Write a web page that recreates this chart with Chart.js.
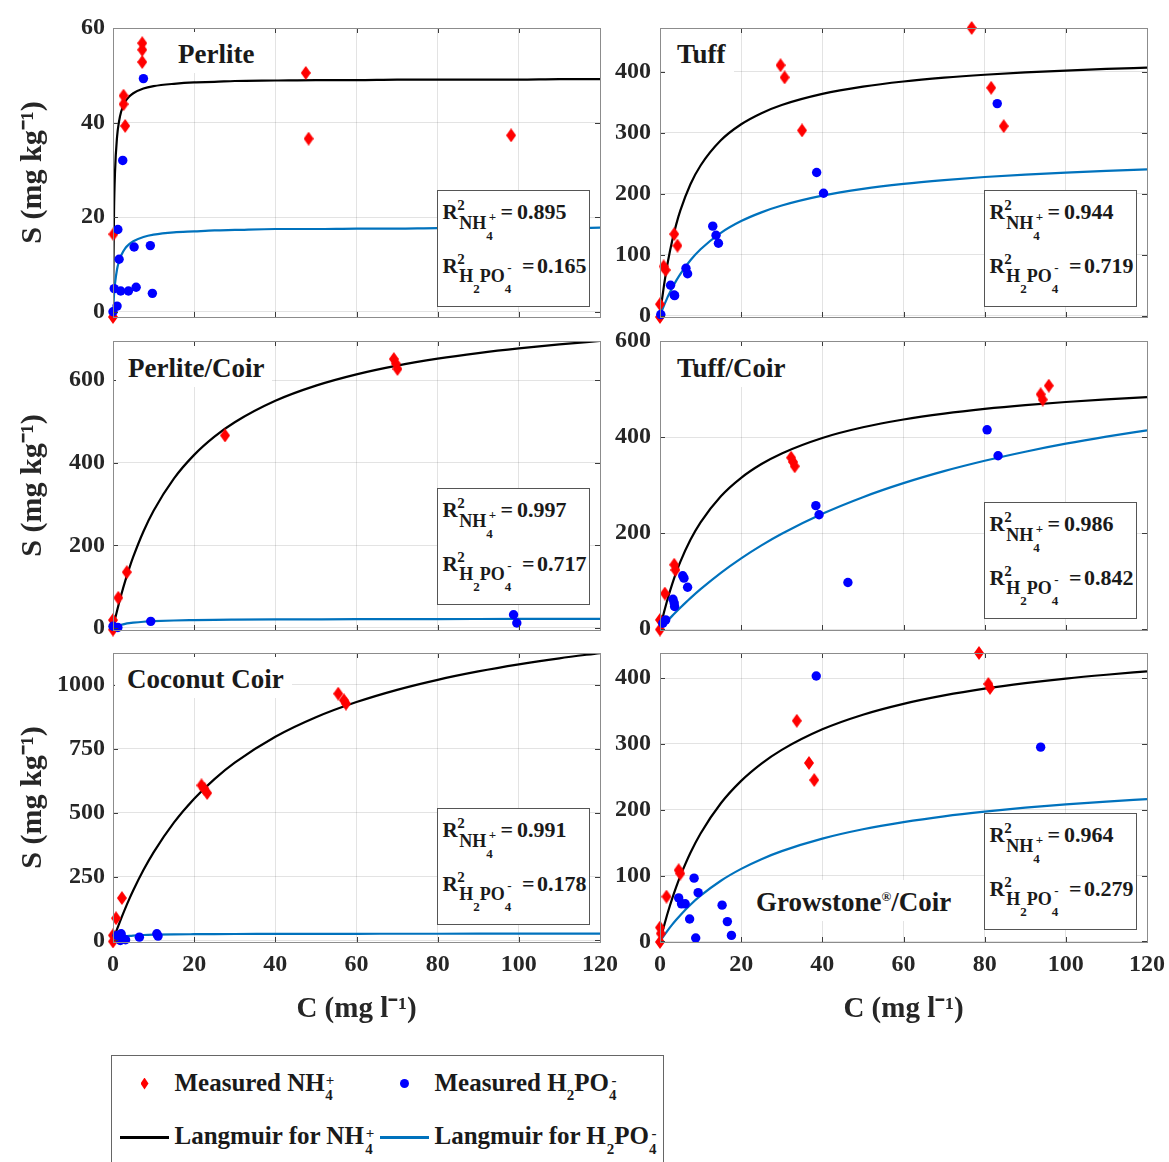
<!DOCTYPE html>
<html><head><meta charset="utf-8">
<script src="https://cdn.jsdelivr.net/npm/chart.js@4.4.1/dist/chart.umd.min.js"></script>
<style>
html,body{margin:0;padding:0;background:#fff;}
body{width:1169px;height:1162px;overflow:hidden;position:relative;}
canvas{position:absolute;}
.t{position:absolute;white-space:nowrap;line-height:1;font-family:'Liberation Serif',serif;font-weight:bold;color:#1a1a1a;}
.box{position:absolute;background:#fff;border:1px solid #555;box-sizing:border-box;}
.bg{position:absolute;background:#fff;}
</style></head><body>
<script>
// ---------------- DATA ----------------
const xTicks = [0, 20, 40, 60, 80, 100, 120];
const xTickLabels = ['0', '20', '40', '60', '80', '100', '120'];
const panelNames = ['Perlite', 'Tuff', 'Perlite/Coir', 'Tuff/Coir', 'Coconut Coir', 'Growstone®/Coir'];
const r2NH4 = ['0.895', '0.944', '0.997', '0.986', '0.991', '0.964'];
const r2H2PO4 = ['0.165', '0.719', '0.717', '0.842', '0.178', '0.279'];

// C values at which the Langmuir curves were read
const C_fit = [0, 0.25, 0.5, 1, 1.5, 2, 3, 4, 5, 7.5, 10, 15, 20, 25, 30, 40, 50, 60, 70, 80, 90, 100, 110, 120];

// Perlite
const perliteYRange = [-1.1, 60];
const perliteYTicks = [0, 20, 40, 60];
const perliteNH4 = [[7.2,56.8],[7.2,55.4],[7.2,52.8],[2.6,45.7],[2.6,43.9],[3.0,39.3],[0.1,16.4],[0,-1.1],[47.5,50.5],[48.2,36.6],[98.1,37.3]];
const perliteH2PO4 = [[7.5,49.3],[2.4,32.0],[1.2,17.4],[1.5,11.1],[0.3,4.9],[1.9,4.4],[3.8,4.4],[5.7,5.2],[5.2,13.7],[9.2,14.0],[9.7,3.9],[1.0,1.2],[0,0]];
const perliteNH4Fit = [0,21.1,29.6,37.0,40.3,42.3,44.4,45.5,46.2,47.2,47.7,48.2,48.5,48.6,48.8,48.9,49.0,49.0,49.1,49.1,49.1,49.1,49.2,49.2];
const perliteH2PO4Fit = [0,3.6,6.0,9.0,10.7,11.9,13.4,14.3,14.9,15.8,16.3,16.8,17.0,17.2,17.3,17.5,17.5,17.6,17.6,17.7,17.7,17.7,17.7,17.8];

// Tuff
const tuffYRange = [-2, 472];
const tuffYTicks = [0, 100, 200, 300, 400];
const tuffNH4 = [[76.8,472],[29.7,411],[30.7,391],[35.0,304],[81.6,374],[84.7,311],[3.5,134],[4.3,115],[0.9,81],[1.4,75],[0,19],[0,-2]];
const tuffH2PO4 = [[83.1,348],[38.6,235],[40.3,201],[13.0,147],[13.8,132],[14.4,119],[6.4,78],[6.8,69],[2.6,50],[3.5,34],[3.6,33],[0.2,2]];
const tuffNH4Fit = [0,13.9,26.9,50.6,71.8,90.6,123.1,149.9,172.4,215.7,246.5,287.8,314.1,332.3,345.7,363.9,375.9,384.3,390.5,395.3,399.1,402.2,404.8,407.0];
const tuffH2PO4Fit = [0,4.5,8.9,17.2,24.9,32.3,45.6,57.6,68.4,91.0,109.0,136.0,155.3,169.6,180.8,197.0,208.2,216.4,222.6,227.6,231.6,234.9,237.6,240.0];

// Perlite/Coir
const perliteCoirYRange = [-5, 694.7];
const perliteCoirYTicks = [0, 200, 400, 600];
const perliteCoirNH4 = [[69.2,651],[69.7,640],[70.1,627],[27.6,466],[3.4,135],[1.3,73],[0,19],[0,-4]];
const perliteCoirH2PO4 = [[98.7,32],[99.5,12],[9.3,16],[1.2,1],[0,4]];
const perliteCoirNH4Fit = [0,10.8,21.4,41.7,61.0,79.3,113.3,144.3,172.5,233.6,283.9,361.6,419.0,463.2,498.1,550.0,586.7,614.0,635.1,651.9,665.5,676.9,686.5,694.7];
const perliteCoirH2PO4Fit = [0,1.4,2.6,4.7,6.4,7.8,10.0,11.6,12.8,15.0,16.3,18.0,18.9,19.6,20.0,20.6,20.9,21.2,21.3,21.5,21.6,21.7,21.8,21.8];

// Tuff/Coir
const tuffCoirYRange = [-2, 600];
const tuffCoirYTicks = [0, 200, 400, 600];
const tuffCoirNH4 = [[95.8,507],[93.8,489],[94.3,478],[32.3,357],[32.8,348],[33.2,339],[3.5,134],[3.8,123],[1.2,74],[0,19],[0,-1]];
const tuffCoirH2PO4 = [[80.6,415],[83.3,361],[38.4,257],[39.2,238],[46.3,97],[5.6,111],[5.9,106],[6.8,87],[3.2,62],[3.5,54],[3.6,47],[1.4,19],[0.7,12]];
const tuffCoirNH4Fit = [0,9.3,18.2,35.3,51.2,66.2,93.6,118.0,139.9,185.8,222.3,276.6,315.0,343.7,365.9,398.1,420.3,436.5,448.8,458.6,466.5,472.9,478.4,483.0];
const tuffCoirH2PO4Fit = [0,2.4,4.7,9.4,14.0,18.5,27.4,36.0,44.3,64.3,83.0,117.1,147.2,174.2,198.4,240.0,274.7,303.9,328.9,350.5,369.4,386.1,400.8,414.0];

// Coconut Coir
const coirYRange = [-6, 1125];
const coirYTicks = [0, 250, 500, 750, 1000];
const coirNH4 = [[55.5,966],[56.9,940],[57.4,927],[21.8,607],[22.5,594],[23.2,577],[2.2,166],[0.75,87],[0,20],[0,-4]];
const coirH2PO4 = [[10.8,26],[11.1,17],[6.5,13],[2.0,26],[2.4,9],[3.1,3],[1.8,0],[1.0,20]];
const coirNH4Fit = [0,11.3,22.4,44.2,65.2,85.7,124.7,161.6,196.4,275.5,344.9,461.2,554.7,631.5,695.8,797.1,873.5,933.0,980.9,1020.1,1052.8,1080.4,1104.2,1124.9];
const coirH2PO4Fit = [0,3.0,5.4,9.0,11.6,13.5,16.2,18.0,19.3,21.3,22.5,23.8,24.5,25.0,25.3,25.7,26.0,26.1,26.3,26.3,26.4,26.5,26.5,26.6];

// Growstone/Coir
const growYRange = [-1, 438];
const growYTicks = [0, 100, 200, 300, 400];
const growNH4 = [[78.6,438],[80.9,391],[81.3,385],[33.7,335],[36.7,271],[38.0,245],[4.6,108],[5.0,103],[1.6,68],[0,21],[0.2,12],[0,-1]];
const growH2PO4 = [[38.5,403],[93.8,295],[8.4,96],[9.4,74],[4.6,66],[5.3,57],[6.2,57],[7.3,34],[15.3,55],[16.6,30],[17.6,9],[8.8,5]];
const growNH4Fit = [0,6.2,12.2,23.8,34.8,45.3,64.8,82.7,99.0,134.5,163.9,209.7,243.7,270.0,290.9,322.1,344.3,360.8,373.6,383.9,392.2,399.2,405.0,410.1];
const growH2PO4Fit = [0,2.3,4.6,9.0,13.3,17.5,25.4,32.8,39.8,55.6,69.3,92.1,110.1,124.8,137.0,156.0,170.2,181.1,189.9,197.0,203.0,208.0,212.3,216.0];

// ---------------- LAYOUT ----------------
const FONT = "'Liberation Serif', 'Times New Roman', serif";
const colL = [113, 660], colR = [600, 1147];
const rowT = [28, 341, 653], rowB = [317, 630, 942];
const PT = 24, PR = 28;

const panels = [
  {nh4: perliteNH4, p: perliteH2PO4, nh4Fit: perliteNH4Fit, pFit: perliteH2PO4Fit, yR: perliteYRange, yT: perliteYTicks, col: 0, row: 0, title: [178, 64], box: [437, 190]},
  {nh4: tuffNH4, p: tuffH2PO4, nh4Fit: tuffNH4Fit, pFit: tuffH2PO4Fit, yR: tuffYRange, yT: tuffYTicks, col: 1, row: 0, title: [677, 64], box: [984, 190]},
  {nh4: perliteCoirNH4, p: perliteCoirH2PO4, nh4Fit: perliteCoirNH4Fit, pFit: perliteCoirH2PO4Fit, yR: perliteCoirYRange, yT: perliteCoirYTicks, col: 0, row: 1, title: [128, 378], box: [437, 488]},
  {nh4: tuffCoirNH4, p: tuffCoirH2PO4, nh4Fit: tuffCoirNH4Fit, pFit: tuffCoirH2PO4Fit, yR: tuffCoirYRange, yT: tuffCoirYTicks, col: 1, row: 1, title: [677, 378], box: [984, 502]},
  {nh4: coirNH4, p: coirH2PO4, nh4Fit: coirNH4Fit, pFit: coirH2PO4Fit, yR: coirYRange, yT: coirYTicks, col: 0, row: 2, title: [127, 689], box: [437, 808]},
  {nh4: growNH4, p: growH2PO4, nh4Fit: growNH4Fit, pFit: growH2PO4Fit, yR: growYRange, yT: growYTicks, col: 1, row: 2, title: [756, 912], box: [984, 813]}
];

// diamond marker (MATLAB-like 'd')
const dia = document.createElement('canvas');
dia.width = 10; dia.height = 14;
(function(){ const g = dia.getContext('2d'); g.fillStyle = '#ff0000'; g.beginPath(); g.moveTo(5,0); g.lineTo(10,7); g.lineTo(5,14); g.lineTo(0,7); g.closePath(); g.fill(); })();

const boxPlugin = {
  id: 'matlabBox',
  afterDraw(chart) {
    const {ctx, chartArea: a, scales: {x, y}} = chart;
    ctx.save();
    ctx.strokeStyle = '#3c3c3c';
    ctx.lineWidth = 1;
    ctx.beginPath();
    const TL = 5;
    x.ticks.forEach(t => {
      const px = Math.round(x.getPixelForValue(t.value)) + 0.5;
      ctx.moveTo(px, a.bottom); ctx.lineTo(px, a.bottom - TL);
      ctx.moveTo(px, a.top); ctx.lineTo(px, a.top + TL);
    });
    y.ticks.forEach(t => {
      const py = Math.round(y.getPixelForValue(t.value)) + 0.5;
      ctx.moveTo(a.left, py); ctx.lineTo(a.left + TL, py);
      ctx.moveTo(a.right, py); ctx.lineTo(a.right - TL, py);
    });
    ctx.stroke();
    ctx.strokeStyle = '#8c8c8c';
    ctx.strokeRect(Math.round(a.left) + 0.5, Math.round(a.top) + 0.5, Math.round(a.right - a.left), Math.round(a.bottom - a.top));
    ctx.restore();
  }
};

const tickFont = {family: FONT, size: 24, weight: 'bold'};
const gridCol = 'rgba(0,0,0,0.11)';

panels.forEach((p) => {
  const c = p.col, r = p.row;
  const cLeft = c === 0 ? 0 : 600;
  const YW = colL[c] - cLeft;
  const XH = r === 2 ? 88 : 24;
  const W = colR[c] - cLeft + PR;
  const H = rowB[r] - rowT[r] + PT + XH;
  const cv = document.createElement('canvas');
  cv.width = W; cv.height = H;
  Object.assign(cv.style, {left: cLeft + 'px', top: (rowT[r] - PT) + 'px', width: W + 'px', height: H + 'px'});
  document.body.appendChild(cv);
  new Chart(cv, {
    type: 'scatter',
    data: {datasets: [
      {type: 'line', showLine: true, data: C_fit.map((x, k) => ({x, y: p.nh4Fit[k]})), borderColor: '#000000', borderWidth: 2.2, pointRadius: 0, cubicInterpolationMode: 'monotone', fill: false, order: 3},
      {type: 'line', showLine: true, data: C_fit.map((x, k) => ({x, y: p.pFit[k]})), borderColor: '#0072bd', borderWidth: 2.2, pointRadius: 0, cubicInterpolationMode: 'monotone', fill: false, order: 2},
      {data: p.nh4.map(([x, y]) => ({x, y})), pointStyle: dia, pointRadius: 6, order: 1, clip: false},
      {data: p.p.map(([x, y]) => ({x, y})), pointStyle: 'circle', pointRadius: 4.7, backgroundColor: '#0000ff', borderWidth: 0, order: 0, clip: false}
    ]},
    options: {
      responsive: false, animation: false, devicePixelRatio: 1, events: [],
      layout: {padding: {left: 0, top: PT, right: PR, bottom: 0}},
      plugins: {legend: {display: false}, tooltip: {enabled: false}},
      scales: {
        x: {
          type: 'linear', min: 0, max: 120,
          afterBuildTicks: s => { s.ticks = xTicks.map(v => ({value: v})); },
          afterFit: s => { s.height = XH; },
          ticks: {display: r === 2, padding: 8, font: tickFont, color: '#262626', autoSkip: false, maxRotation: 0, callback: (v, k) => xTickLabels[k]},
          grid: {color: gridCol, drawTicks: false, lineWidth: 1},
          border: {display: false},
          title: {display: r === 2, text: 'C (mg l⁻¹)', color: '#262626', font: {family: FONT, size: 29, weight: 'bold'}, padding: {top: 0, bottom: 3}}
        },
        y: {
          type: 'linear', min: p.yR[0], max: p.yR[1],
          afterBuildTicks: s => { s.ticks = p.yT.map(v => ({value: v})); },
          afterFit: s => { s.width = YW; },
          ticks: {padding: c === 0 ? 8 : 9, font: tickFont, color: '#262626', autoSkip: false, callback: (v, k) => String(p.yT[k])},
          grid: {color: gridCol, drawTicks: false, lineWidth: 1},
          border: {display: false},
          title: {display: c === 0, text: 'S (mg kg⁻¹)', color: '#262626', font: {family: FONT, size: 30, weight: 'bold'}, padding: {top: 15, bottom: 0}}
        }
      }
    },
    plugins: [boxPlugin]
  });
});

// ---------------- TEXT ANNOTATIONS ----------------
const mctx = document.createElement('canvas').getContext('2d');
function tw(s, size) { mctx.font = `bold ${size}px ${FONT}`; return mctx.measureText(s).width; }
function put(s, x, base, size) {
  const e = document.createElement('span');
  e.className = 't'; e.textContent = s;
  e.style.fontSize = size + 'px';
  e.style.left = x + 'px';
  e.style.top = (base - 0.8375 * size) + 'px';
  document.body.appendChild(e);
  return x + tw(s, size);
}
function panelTitle(name, x, base, a) {
  const sp = name.split('®');
  const parts = sp.length === 2 ? [[sp[0], 27, 0], ['®', 13, -11], [sp[1], 27, 0]] : [[name, 27, 0]];
  let w = 0; parts.forEach(([s, sz]) => w += tw(s, sz));
  const L = Math.max(x - 12, a.l + 1), T = Math.max(base - 32, a.t + 1), R = Math.min(x + w + 8, a.r - 1), B = Math.min(base + 9, a.b - 1);
  const bg = document.createElement('div'); bg.className = 'bg';
  Object.assign(bg.style, {left: L + 'px', top: T + 'px', width: (R - L) + 'px', height: (B - T) + 'px'});
  document.body.appendChild(bg);
  let X = x; parts.forEach(([s, sz, dy]) => { X = put(s, X, base + dy, sz); });
}
function r2Box(bx, by, v1, v2) {
  const b = document.createElement('div'); b.className = 'box';
  Object.assign(b.style, {left: bx + 'px', top: by + 'px', width: '153px', height: '117px'});
  document.body.appendChild(b);
  let X = put('R', bx + 5.5, by + 29.5, 21);
  put('2', X - 0.5, by + 20.7, 15);
  let X2 = put('NH', X + 1.5, by + 39.5, 18);
  put('4', X2, by + 50.3, 13);
  put('+', X2 + 2.5, by + 31, 13);
  put('=', bx + 63.5, by + 29.5, 22);
  put(v1, bx + 80, by + 29.5, 22);
  X = put('R', bx + 5.5, by + 83.5, 21);
  put('2', X - 0.5, by + 75, 15);
  let X3 = put('H', X + 1.5, by + 91.8, 18);
  X3 = put('2', X3, by + 103.3, 13);
  X3 = put('PO', X3, by + 91.8, 18);
  put('4', X3, by + 103.3, 13);
  put('-', X3 + 2.5, by + 82, 13);
  put('=', bx + 85, by + 83.5, 22);
  put(v2, bx + 100, by + 83.5, 22);
}
panels.forEach((p, i) => {
  const a = {l: colL[p.col], r: colR[p.col], t: rowT[p.row], b: rowB[p.row]};
  panelTitle(panelNames[i], p.title[0], p.title[1], a);
  r2Box(p.box[0], p.box[1], r2NH4[i], r2H2PO4[i]);
});

// legend
(function(){
  const b = document.createElement('div'); b.className = 'box';
  Object.assign(b.style, {left: '111px', top: '1055px', width: '553px', height: '130px', borderColor: '#666'});
  document.body.appendChild(b);
  const d = document.createElement('div');
  Object.assign(d.style, {position: 'absolute', left: '140.5px', top: '1077.5px', width: '8px', height: '12px', background: '#ff0000', clipPath: 'polygon(50% 0,100% 50%,50% 100%,0 50%)'});
  document.body.appendChild(d);
  const o = document.createElement('div');
  Object.assign(o.style, {position: 'absolute', left: '400.2px', top: '1078.5px', width: '9px', height: '9px', borderRadius: '50%', background: '#0000ff'});
  document.body.appendChild(o);
  const l1 = document.createElement('div');
  Object.assign(l1.style, {position: 'absolute', left: '120px', top: '1136px', width: '49px', height: '2.5px', background: '#000'});
  document.body.appendChild(l1);
  const l2 = document.createElement('div');
  Object.assign(l2.style, {position: 'absolute', left: '380px', top: '1136px', width: '49px', height: '2.5px', background: '#0072bd'});
  document.body.appendChild(l2);
  let X = put('Measured NH', 174.5, 1090.7, 25); put('4', X + 0.5, 1101, 15); put('+', X + 1, 1085.5, 15);
  X = put('Measured H', 434.5, 1090.7, 25); X = put('2', X, 1101, 15); X = put('PO', X, 1090.7, 25); put('4', X, 1101, 15); put('-', X + 2.5, 1085.5, 15);
  X = put('Langmuir for NH', 174.5, 1144, 25); put('4', X + 0.5, 1154.5, 15); put('+', X + 1, 1139, 15);
  X = put('Langmuir for H', 434.5, 1144, 25); X = put('2', X, 1154.5, 15); X = put('PO', X, 1144, 25); put('4', X, 1154.5, 15); put('-', X + 2.5, 1139, 15);
})();
</script>
</body></html>
